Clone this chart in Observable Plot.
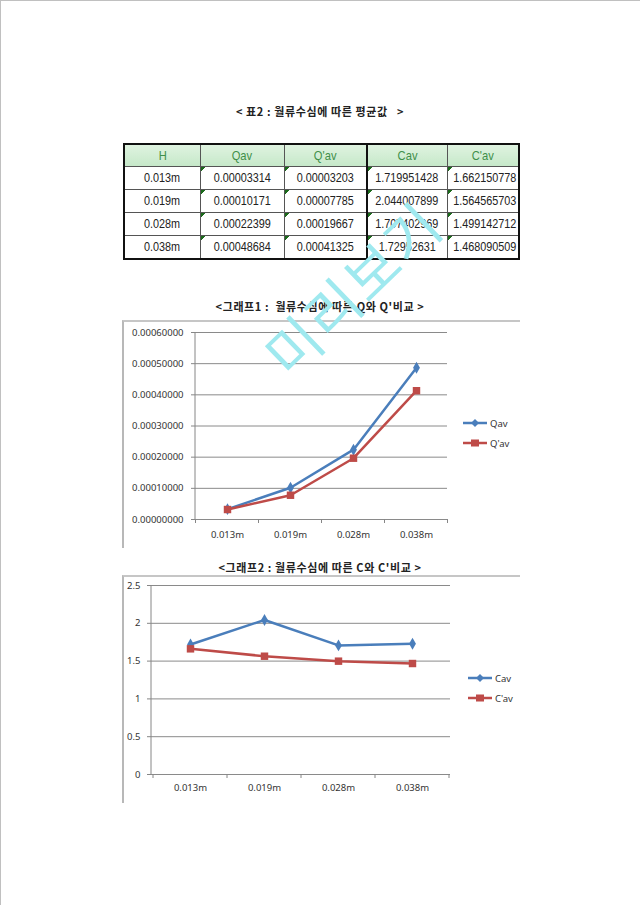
<!DOCTYPE html>
<html><head><meta charset="utf-8">
<script src="https://cdn.jsdelivr.net/npm/d3@7"></script>
<script src="https://cdn.jsdelivr.net/npm/@observablehq/plot@0.6"></script>
<style>
html,body{margin:0;padding:0;background:#fff;}
body{width:640px;height:905px;position:relative;overflow:hidden;font-family:"Noto Sans CJK KR","Noto Sans",sans-serif;}
.pageborder{position:absolute;left:0;top:0;width:640px;height:905px;border-top:1px solid #c0c0c0;border-left:1px solid #c0c0c0;box-sizing:border-box;}
.title{position:absolute;left:0;width:640px;text-align:center;font-weight:bold;font-size:11px;color:#222;letter-spacing:0.6px;white-space:pre;}
table{position:absolute;left:123px;top:143px;width:395px;table-layout:fixed;border-collapse:collapse;border:2px solid #111;font-family:"Liberation Sans",Arial,sans-serif;font-size:12.6px;color:#222;}
td,th{border:1px solid #555;padding:0;text-align:center;height:22px;font-weight:normal;white-space:nowrap;overflow:hidden;}
td span,th span{display:inline-block;transform:scaleX(0.86);transform-origin:center;}
th{background:linear-gradient(#dff3e0,#c6e8c9);color:#3f8f4a;height:21px;font-size:13px;}
td.f{background-image:linear-gradient(135deg,#1c6a1c 3px,transparent 3px);background-repeat:no-repeat;}
.thick{border-left:2px solid #111;}
.frame{position:absolute;border-top:2px solid #c6c6c6;border-left:2px solid #b8b8b8;}
.chart{position:absolute;}
.legend{position:absolute;font-family:"Noto Sans",sans-serif;font-size:9.5px;color:#333;}
.legend div{height:20px;display:flex;align-items:center;}
.wm{position:absolute;left:242px;top:246px;font-size:57px;color:#9fe9ef;transform:rotate(-44deg);transform-origin:center;font-family:"Noto Sans CJK KR",sans-serif;font-weight:400;letter-spacing:2px;white-space:nowrap;z-index:10;}
</style></head><body>
<div class="pageborder"></div>
<div class="title" style="top:103px">&lt; 표2 : 월류수심에 따른 평균값   &gt;</div>
<div id="tbl"></div>
<div class="title" style="top:298px">&lt;그래프1 :  월류수심에 따른 Q와 Q'비교 &gt;</div>
<div class="frame" style="left:122px;top:320px;width:396px;height:226px;"></div>
<div class="chart" id="c1" style="left:122px;top:320px;"></div>
<div class="legend" id="l1" style="left:462px;top:413px;"></div>
<div class="title" style="top:559px">&lt;그래프2 : 월류수심에 따른 C와 C'비교 &gt;</div>
<div class="frame" style="left:122px;top:575px;width:396px;height:226px;"></div>
<div class="chart" id="c2" style="left:122px;top:575px;"></div>
<div class="legend" id="l2" style="left:467px;top:668px;"></div>
<div class="wm">미리보기</div>
<script>
const H = ["0.013m", "0.019m", "0.028m", "0.038m"];
const Qav = [0.00003314, 0.00010171, 0.00022399, 0.00048684];
const Qpav = [0.00003203, 0.00007785, 0.00019667, 0.00041325];
const Cav = [1.719951428, 2.044007899, 1.707402969, 1.72952631];
const Cpav = [1.662150778, 1.564565703, 1.499142712, 1.468090509];
const QavText = ["0.00003314", "0.00010171", "0.00022399", "0.00048684"];
const QpavText = ["0.00003203", "0.00007785", "0.00019667", "0.00041325"];
const CavText = ["1.719951428", "2.044007899", "1.707402969", "1.72952631"];
const CpavText = ["1.662150778", "1.564565703", "1.499142712", "1.468090509"];
const headers = ["H", "Qav", "Q'av", "Cav", "C'av"];
const colWidths = [76, 84, 83, 80, 72];
const qTicks = [0, 0.0001, 0.0002, 0.0003, 0.0004, 0.0005, 0.0006];
const cTicks = [0, 0.5, 1, 1.5, 2, 2.5];
const blue = "#4a7ebb", red = "#be4b48";

// table
const sp = t => `<span>${t}</span>`;
let html = "<table><colgroup>" + colWidths.map(w => `<col style="width:${w}px">`).join("") + "</colgroup><tr>" +
  headers.map((h, i) => `<th class="${i===3?'thick':''}">${sp(h)}</th>`).join("") + "</tr>";
H.forEach((h, i) => {
  html += `<tr><td>${sp(h)}</td><td class="f">${sp(QavText[i])}</td><td class="f">${sp(QpavText[i])}</td><td class="f thick">${sp(CavText[i])}</td><td class="f">${sp(CpavText[i])}</td></tr>`;
});
html += "</table>";
document.getElementById("tbl").innerHTML = html;

function makeChart(el, legendEl, a, b, names, ticks, fmt, m) {
  const data = H.flatMap((h, i) => [{H: h, v: a[i], s: names[0]}, {H: h, v: b[i], s: names[1]}]);
  const sa = data.filter(d => d.s === names[0]);
  const sb = data.filter(d => d.s === names[1]);
  const axisLines = (index, scales, values, dim) => {
    const g = d3.create("svg:g");
    const x = scales.x, y = scales.y;
    const step = x(H[1]) - x(H[0]);
    const y0 = y(0);
    g.append("line").attr("x1", dim.marginLeft).attr("x2", dim.marginLeft)
      .attr("y1", dim.marginTop).attr("y2", y0).attr("stroke", "#868686");
    H.forEach((h, i) => {
      const bx = x(h) - step / 2;
      g.append("line").attr("x1", bx).attr("x2", bx).attr("y1", y0).attr("y2", y0 + 4).attr("stroke", "#868686");
    });
    const ex = x(H[H.length - 1]) + step / 2;
    g.append("line").attr("x1", ex).attr("x2", ex).attr("y1", y0).attr("y2", y0 + 4).attr("stroke", "#868686");
    return g.node();
  };
  const p = Plot.plot({
    width: 396, height: 226,
    marginLeft: m.left, marginRight: m.right, marginTop: m.top, marginBottom: m.bottom,
    x: {type: "point", domain: H, padding: 0.5, label: null},
    y: {domain: [ticks[0], ticks[ticks.length - 1]], label: null},
    style: {fontFamily: "'Noto Sans', sans-serif", fontSize: "9.5px", color: "#333", background: "transparent", overflow: "visible"},
    marks: [
      Plot.ruleY(ticks, {stroke: "#8a8a8a", strokeWidth: 1}),
      axisLines,
      Plot.axisY({ticks, tickFormat: fmt, tickSize: 4, tickPadding: m.pad, stroke: "#868686", fill: "#333", label: null}),
      Plot.axisX({tickSize: 0, tickPadding: m.xpad, fill: "#333", label: null}),
      Plot.line(sa, {x: "H", y: "v", stroke: blue, strokeWidth: 2.5}),
      Plot.line(sb, {x: "H", y: "v", stroke: red, strokeWidth: 2.5}),
      Plot.dot(sa, {x: "H", y: "v", symbol: "diamond", r: 3.6, fill: blue, stroke: "none"}),
      Plot.dot(sb, {x: "H", y: "v", symbol: "square", r: 4.2, fill: red, stroke: "none"})
    ]
  });
  el.appendChild(p);
  const sw = (c, sym) => `<svg width="26" height="10" style="margin-right:2px"><line x1="1" x2="25" y1="5" y2="5" stroke="${c}" stroke-width="2.5"/>${sym === "d" ? `<path d="M13,1 L17,5 L13,9 L9,5Z" fill="${c}"/>` : `<rect x="9" y="1.5" width="8" height="7" fill="${c}"/>`}</svg>`;
  legendEl.innerHTML = `<div>${sw(blue, "d")}${names[0]}</div><div>${sw(red, "s")}${names[1]}</div>`;
}

makeChart(document.getElementById("c1"), document.getElementById("l1"), Qav, Qpav, ["Qav", "Q'av"], qTicks, d3.format(".8f"),
  {left: 73, right: 71, top: 12, bottom: 27, pad: 8, xpad: 12});
makeChart(document.getElementById("c2"), document.getElementById("l2"), Cav, Cpav, ["Cav", "C'av"], cTicks, d => String(d),
  {left: 29, right: 68, top: 10, bottom: 27, pad: 7, xpad: 10});
</script>
</body></html>
